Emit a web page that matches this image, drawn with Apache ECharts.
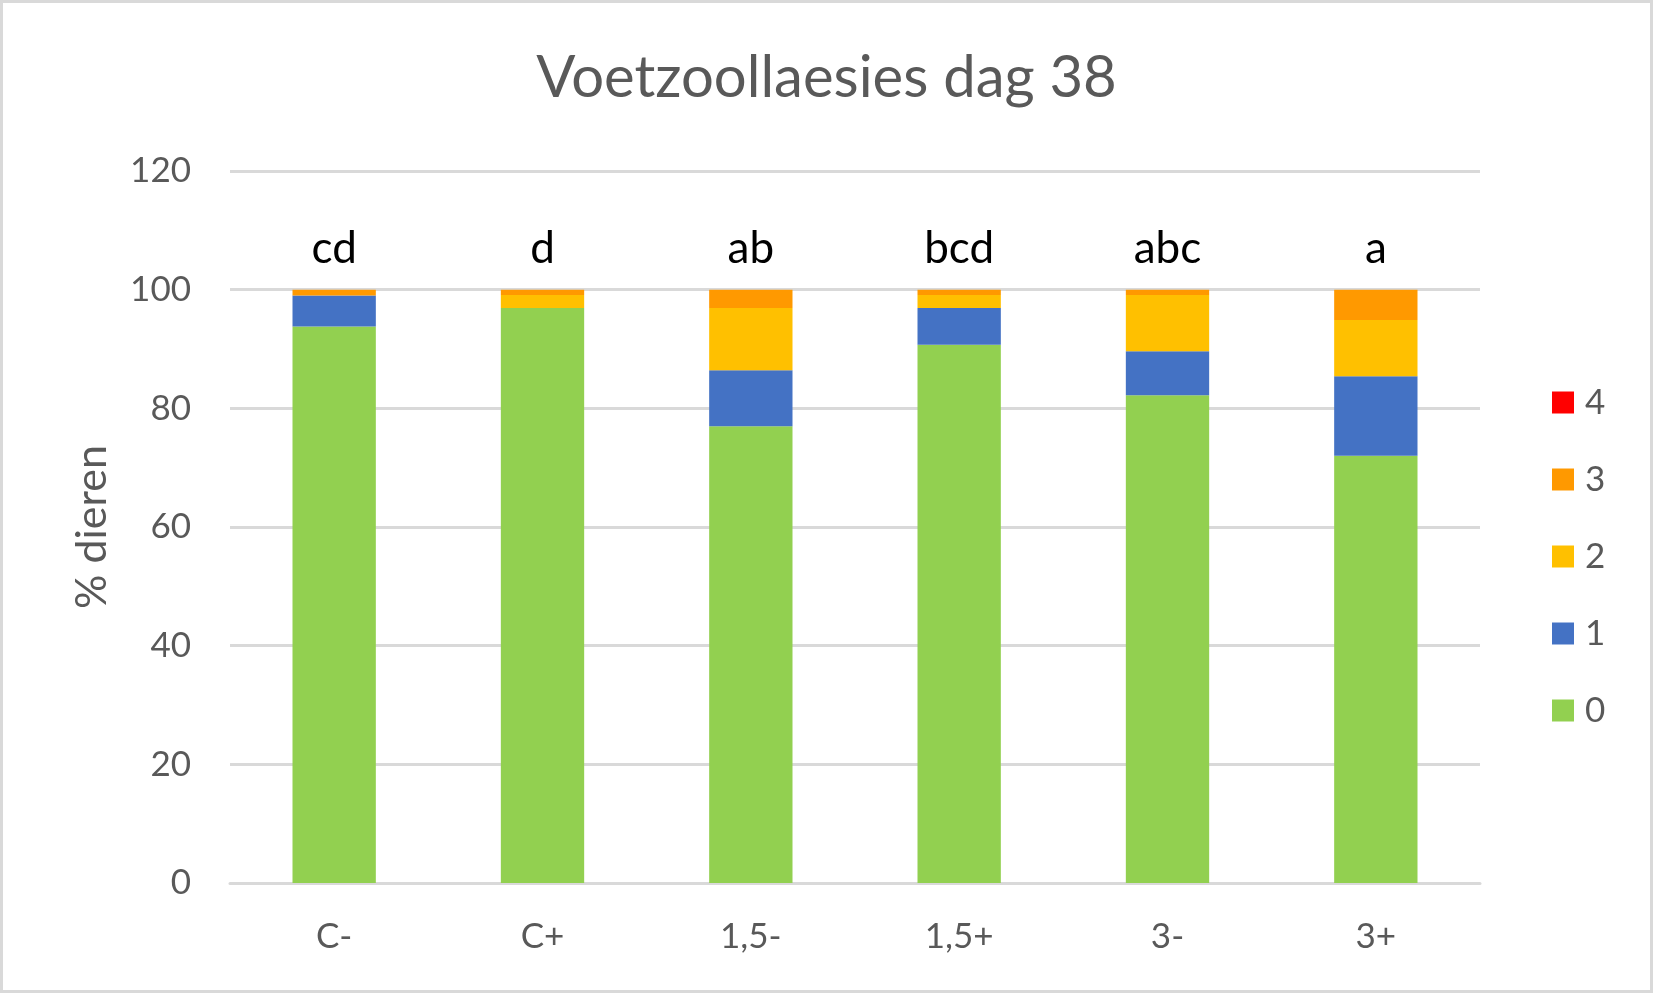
<!DOCTYPE html>
<html>
<head>
<meta charset="utf-8">
<script src="https://cdn.jsdelivr.net/npm/echarts@6/dist/echarts.min.js"></script>
<style>
html,body{margin:0;padding:0;background:#fff;}
#chart{width:1653px;height:993px;}
</style>
</head>
<body>
<div id="chart"></div>
<script>
var categories = ['C-', 'C+', '1,5-', '1,5+', '3-', '3+'];
var score0 = [93.8, 96.9, 77.0, 90.7, 82.2, 72.0];
var score1 = [5.2, 0, 9.4, 6.2, 7.4, 13.4];
var score2 = [0, 2.2, 10.5, 2.2, 9.5, 9.5];
var score3 = [1.0, 0.9, 3.1, 0.9, 0.9, 5.1];
var score4 = [0, 0, 0, 0, 0, 0];
var letters = ['cd', 'd', 'ab', 'bcd', 'abc', 'a'];
var seriesNames = ['0', '1', '2', '3', '4'];
var yTicks = [0, 20, 40, 60, 80, 100, 120];

var FONT = 'Lato';
var colors = ['#92D050', '#4472C4', '#FFC000', '#FF9900', '#FF0000'];
var dataSets = [score0, score1, score2, score3, score4];

var series = dataSets.map(function (d, i) {
  var s = {
    name: seriesNames[i],
    type: 'bar',
    stack: 'total',
    data: d,
    barCategoryGap: '60%',
    itemStyle: { color: colors[i] },
    emphasis: { disabled: true }
  };
  if (i === 3) {
    s.label = {
      show: true,
      position: 'top',
      distance: 19,
      fontFamily: FONT,
      fontSize: 44,
      color: '#000000',
      formatter: function (p) { return letters[p.dataIndex]; }
    };
  }
  return s;
});

var chart = echarts.init(document.getElementById('chart'), null, { renderer: 'canvas' });
chart.setOption({
  animation: false,
  backgroundColor: '#ffffff',
  title: {
    text: 'Voetzoollaesies dag 38',
    left: 'center',
    top: 44,
    textStyle: { fontFamily: FONT, fontSize: 58, fontWeight: 'normal', color: '#595959' }
  },
  grid: { left: 230, right: 173, top: 171, bottom: 110, containLabel: false },
  legend: {
    orient: 'vertical',
    left: 1547,
    top: 380,
    data: ['4', '3', '2', '1', '0'],
    icon: 'rect',
    itemWidth: 22,
    itemHeight: 22,
    itemGap: 42,
    textStyle: { fontFamily: FONT, fontSize: 35, color: '#595959', padding: [0, 0, 0, 6] }
  },
  xAxis: {
    type: 'category',
    data: categories,
    axisLine: { show: true, lineStyle: { color: '#D9D9D9', width: 3 } },
    axisTick: { show: false },
    axisLabel: { fontFamily: FONT, fontSize: 35, color: '#595959', margin: 36 }
  },
  yAxis: {
    type: 'value',
    min: yTicks[0],
    max: yTicks[yTicks.length - 1],
    interval: yTicks[1] - yTicks[0],
    name: '% dieren',
    nameLocation: 'middle',
    nameRotate: 90,
    nameGap: 116,
    nameTextStyle: { fontFamily: FONT, fontSize: 43, color: '#595959' },
    axisLine: { show: false },
    axisTick: { show: false },
    axisLabel: { fontFamily: FONT, fontSize: 35, color: '#595959', margin: 39 },
    splitLine: { lineStyle: { color: '#D9D9D9', width: 3 } }
  },
  graphic: [{
    type: 'rect',
    shape: { x: 1.5, y: 1.5, width: 1650, height: 990 },
    style: { fill: null, stroke: '#D9D9D9', lineWidth: 3 },
    silent: true
  }],
  series: series
});
</script>
</body>
</html>
